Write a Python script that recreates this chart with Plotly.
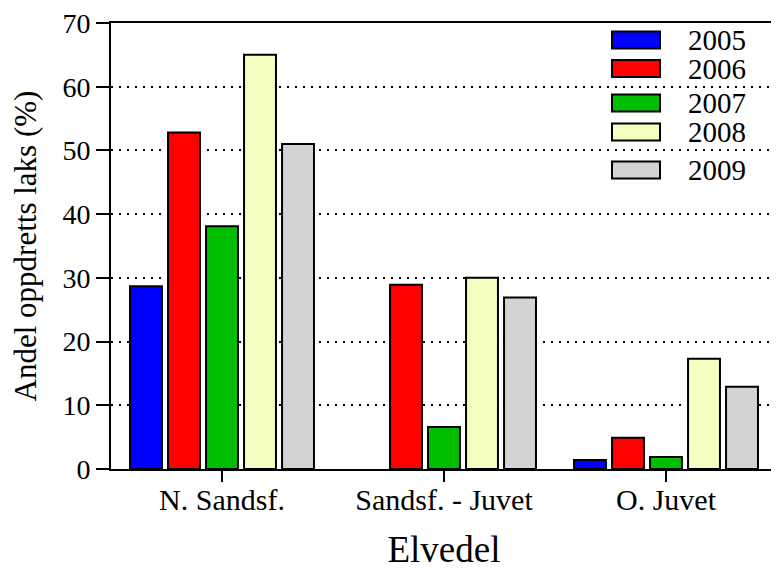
import plotly.graph_objects as go

categories = ["N. Sandsf.", "Sandsf. - Juvet", "O. Juvet"]
years = ["2005", "2006", "2007", "2008", "2009"]
v2005 = [28.7, None, 1.4]
v2006 = [52.8, 28.9, 4.9]
v2007 = [38.1, 6.6, 1.9]
v2008 = [65.0, 30.0, 17.3]
v2009 = [51.0, 26.9, 12.9]
series = [v2005, v2006, v2007, v2008, v2009]
colors = ["#0000FF", "#FF0000", "#00BF00", "#F3FFC0", "#D3D3D3"]

font = "Liberation Serif, Times New Roman, serif"

fig = go.Figure()
for y, vals, c in zip(years, series, colors):
    fig.add_trace(go.Bar(x=categories, y=vals, name=y,
                         marker=dict(color=c, line=dict(color="black", width=2))))

# page geometry (the page body adds an 8px offset)
OFF = 8
L, T, W, H = 111, 23, 666, 446
legend_centers = [40, 68.5, 103, 132, 170]
for yr, c, cy in zip(years, colors, legend_centers):
    fig.add_shape(type="rect", xref="paper", yref="paper",
                  x0=(612 - L) / W, x1=(660 - L) / W,
                  y0=(T + H - (cy - 8.5)) / H, y1=(T + H - (cy + 8.5)) / H,
                  fillcolor=c, line=dict(color="black", width=2))
    fig.add_annotation(xref="paper", yref="paper", x=(686 - L) / W, y=(T + H - cy) / H,
                       text=yr, showarrow=False, xanchor="left", yanchor="middle",
                       font=dict(size=29, family=font, color="black"))

FW, FH = 779 - OFF, 570 - OFF
fig.update_layout(
    width=FW, height=FH,
    margin=dict(l=L - OFF, r=FW - (L - OFF) - W, t=T - OFF, b=FH - (T - OFF) - H, autoexpand=False),
    paper_bgcolor="white", plot_bgcolor="white",
    barmode="group", bargap=0.144, bargroupgap=0.16,
    font=dict(family=font, size=28, color="black"),
    showlegend=False,
)
fig.update_xaxes(
    range=[-0.5, 2.5], showline=True, linecolor="black", linewidth=2, mirror=True,
    ticks="outside", ticklen=11, tickwidth=2, tickcolor="black",
    tickfont=dict(size=30), showgrid=False, automargin=False,
    ticklabelstandoff=-8,
    title=dict(text="Elvedel", font=dict(size=37), standoff=29),
)
fig.update_yaxes(
    range=[0, 70], dtick=10, showline=True, linecolor="black", linewidth=2,
    ticks="outside", ticklen=13, tickwidth=2, tickcolor="black",
    tickfont=dict(size=28), showgrid=True, gridcolor="black", griddash="2px,6px", gridwidth=1.5,
    zeroline=False, automargin=False, ticklabeloverflow="allow",
    title=dict(text="Andel oppdretts laks (%)", font=dict(size=31), standoff=19),
)
fig.write_html("out.html")
